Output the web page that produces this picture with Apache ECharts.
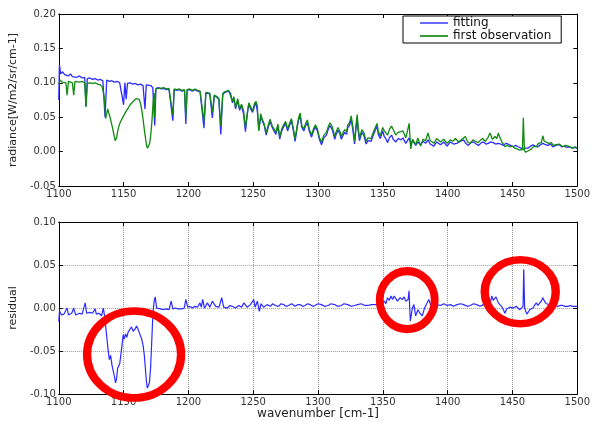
<!DOCTYPE html>
<html>
<head>
<meta charset="utf-8">
<script src="https://cdn.jsdelivr.net/npm/echarts@6/dist/echarts.min.js"></script>
<style>
  html, body { margin: 0; padding: 0; background: #fff; }
  #chart { width: 593px; height: 421px; }
</style>
</head>
<body>
<div id="chart"></div>
<script>
// wavenumber [cm-1], radiance of the fitted spectrum
const fitting = [
  [1100,0.075],[1100.5,0.126],[1101.5,0.113],[1103,0.116],[1104.5,0.112],[1106,0.114],[1107.5,0.110],[1109,0.113],
  [1110.5,0.109],[1112,0.111],[1114,0.108],[1116,0.110],[1118,0.107],[1120,0.108],[1121,0.066],[1122,0.106],
  [1124,0.107],[1126,0.105],[1128,0.106],[1130,0.104],[1132,0.105],[1134,0.103],[1135.7,0.050],[1137,0.104],
  [1139,0.102],[1141,0.103],[1143,0.101],[1145,0.102],[1147,0.100],[1148.5,0.101],[1150,0.068],[1151,0.100],
  [1152,0.076],[1153,0.099],[1155,0.100],[1157,0.098],[1159,0.099],[1161,0.097],[1163,0.098],[1165,0.096],
  [1166.5,0.062],[1167.5,0.097],[1169,0.095],[1171,0.096],[1172.5,0.093],[1174,0.038],[1175,0.092],[1177,0.093],
  [1179,0.091],[1181,0.092],[1183,0.090],[1185,0.091],[1186.5,0.089],[1188,0.045],[1189,0.090],[1191,0.089],
  [1193,0.090],[1195,0.088],[1197,0.089],[1198,0.040],[1199,0.089],[1201,0.090],[1203,0.088],[1205,0.090],
  [1207,0.088],[1209,0.087],[1210.5,0.085],[1212,0.034],[1213.5,0.085],[1215,0.087],[1216.5,0.084],[1218.5,0.049],
  [1220,0.081],[1222,0.079],[1223.5,0.076],[1225,0.025],[1226.5,0.083],[1228,0.086],[1229.5,0.084],[1231,0.088],
  [1232.5,0.085],[1234,0.071],[1235,0.078],[1236.4,0.062],[1238,0.074],[1239.5,0.060],[1241,0.067],[1242.5,0.055],
  [1244,0.029],[1245.5,0.055],[1246.6,0.069],[1248,0.062],[1249.5,0.057],[1251,0.066],[1252.2,0.071],[1253.2,0.058],
  [1254.3,0.032],[1255.8,0.050],[1257,0.045],[1258.5,0.038],[1260,0.024],[1261.5,0.035],[1263,0.044],[1264.5,0.036],
  [1266,0.030],[1267.5,0.025],[1269,0.037],[1270.5,0.018],[1272,0.030],[1273.5,0.036],[1275,0.041],[1276.5,0.030],
  [1278,0.038],[1279.5,0.045],[1281,0.030],[1282.3,0.015],[1284,0.036],[1285,0.046],[1286.2,0.052],[1287.5,0.035],
  [1289,0.030],[1290.5,0.038],[1291.8,0.042],[1293.2,0.030],[1295,0.021],[1296.5,0.030],[1298,0.036],[1299.5,0.030],
  [1301,0.018],[1302.7,0.010],[1304.5,0.020],[1306.5,0.024],[1308,0.033],[1309.2,0.038],[1311,0.032],[1312.9,0.018],
  [1314,0.025],[1315.4,0.031],[1316.8,0.026],[1318,0.018],[1319.4,0.024],[1320.6,0.028],[1322,0.025],[1323,0.035],
  [1324.3,0.038],[1325.6,0.047],[1326.9,0.031],[1328.2,0.011],[1329.2,0.032],[1330.2,0.049],[1331,0.030],[1332,0.016],
  [1333.8,0.028],[1335.3,0.024],[1337.1,0.011],[1338.5,0.016],[1339.7,0.014],[1341,0.015],[1342.2,0.022],[1343.5,0.028],
  [1345.5,0.037],[1346.5,0.025],[1348,0.019],[1349.9,0.030],[1351.1,0.022],[1352.5,0.018],[1353.7,0.013],[1355,0.020],
  [1356.7,0.024],[1358,0.018],[1360,0.014],[1361.8,0.019],[1363.9,0.017],[1365.5,0.020],[1367.7,0.012],[1369,0.016],
  [1370.3,0.020],[1371.5,0.011],[1373,0.016],[1375.4,0.009],[1377,0.014],[1379.2,0.010],[1381,0.015],[1383,0.012],
  [1384.8,0.017],[1386.5,0.011],[1389.4,0.008],[1391.5,0.014],[1394.5,0.010],[1397,0.014],[1399.6,0.008],[1402,0.014],
  [1404.5,0.011],[1407,0.012],[1410,0.015],[1412.3,0.017],[1414,0.012],[1416,0.009],[1418,0.013],[1420,0.014],
  [1422,0.011],[1423.8,0.009],[1426,0.013],[1427.6,0.014],[1429.5,0.011],[1431.4,0.012],[1433,0.014],[1435.2,0.013],
  [1437,0.011],[1439,0.012],[1441,0.011],[1442.9,0.009],[1445,0.012],[1446.7,0.011],[1448.5,0.009],[1450.5,0.007],
  [1452.5,0.009],[1454.4,0.007],[1456.5,0.005],[1458.2,0.003],[1460,0.005],[1462,0.005],[1464,0.008],[1465.8,0.010],
  [1467.5,0.008],[1469.7,0.007],[1471.5,0.010],[1473.5,0.012],[1475.5,0.010],[1477.3,0.009],[1479.5,0.011],[1481.1,0.007],
  [1483.5,0.009],[1486.2,0.010],[1488,0.007],[1490,0.008],[1492,0.006],[1493.9,0.007],[1496,0.005],[1497.7,0.006],
  [1500,0.005]
];

// wavenumber [cm-1], radiance of the first observation
const firstObservation = [
  [1100,0.098],[1101,0.104],[1102.5,0.101],[1104,0.103],[1105.5,0.100],[1106.4,0.082],[1107.5,0.102],[1109,0.103],
  [1110.5,0.100],[1111.5,0.082],[1112.5,0.102],[1114,0.103],[1116,0.101],[1118,0.102],[1120,0.100],[1121,0.065],
  [1122,0.099],[1124,0.100],[1126,0.099],[1128,0.100],[1130,0.098],[1132,0.097],[1133.5,0.094],[1135,0.080],
  [1136.2,0.048],[1137.7,0.062],[1139.5,0.050],[1141.3,0.036],[1142.5,0.025],[1143.5,0.016],[1144.6,0.020],[1145.5,0.030],
  [1146.4,0.037],[1147.5,0.043],[1148.4,0.045],[1150,0.052],[1151,0.050],[1152.3,0.060],[1153.5,0.063],[1155,0.068],
  [1156.5,0.071],[1158,0.074],[1159.5,0.077],[1161,0.078],[1162,0.076],[1163.2,0.069],[1164.2,0.058],[1165,0.048],
  [1166,0.032],[1166.8,0.021],[1167.6,0.010],[1168.3,0.005],[1169.2,0.008],[1170.1,0.012],[1171,0.025],[1171.9,0.045],
  [1172.7,0.070],[1173.4,0.085],[1174,0.050],[1174.6,0.089],[1176,0.092],[1178,0.092],[1181,0.093],[1183,0.091],
  [1185,0.092],[1186.5,0.090],[1188,0.053],[1189,0.091],[1191,0.090],[1193,0.091],[1195,0.089],[1197,0.090],
  [1198,0.050],[1199,0.090],[1201,0.091],[1203,0.089],[1205,0.091],[1207,0.089],[1209,0.088],[1210.5,0.086],
  [1212,0.044],[1213.5,0.086],[1215,0.088],[1216.5,0.085],[1218.5,0.057],[1220,0.082],[1222,0.080],[1223.5,0.077],
  [1225,0.037],[1226.5,0.084],[1228,0.087],[1229.5,0.085],[1231,0.089],[1232.5,0.087],[1234,0.073],[1235,0.080],
  [1236.4,0.064],[1238,0.077],[1239.5,0.062],[1241,0.069],[1242.5,0.060],[1244,0.035],[1245.5,0.057],[1246.6,0.071],
  [1248,0.065],[1249.5,0.059],[1251,0.070],[1252.2,0.073],[1253.2,0.066],[1254.3,0.030],[1255.8,0.055],[1257,0.047],
  [1258.5,0.040],[1260,0.027],[1261.5,0.038],[1263,0.047],[1264.5,0.038],[1266,0.033],[1267.5,0.028],[1269,0.040],
  [1270.5,0.021],[1272,0.033],[1273.5,0.039],[1275,0.044],[1276.5,0.033],[1278,0.041],[1279.5,0.048],[1281,0.033],
  [1282.3,0.018],[1284,0.039],[1285,0.049],[1286.2,0.056],[1287.5,0.038],[1289,0.033],[1290.5,0.041],[1291.8,0.046],
  [1293.2,0.033],[1295,0.024],[1296.5,0.033],[1298,0.039],[1299.5,0.033],[1301,0.021],[1302.7,0.014],[1304.5,0.024],
  [1306.5,0.028],[1308,0.037],[1309.2,0.042],[1311,0.036],[1312.9,0.022],[1314,0.029],[1315.4,0.035],[1316.8,0.030],
  [1318,0.022],[1319.4,0.028],[1320.6,0.032],[1322,0.029],[1323,0.039],[1324.3,0.042],[1325.6,0.052],[1326.9,0.036],
  [1328.2,0.015],[1329.2,0.036],[1330.2,0.054],[1331,0.034],[1332,0.020],[1333.8,0.032],[1335.3,0.028],[1337.1,0.015],
  [1338.5,0.020],[1339.7,0.018],[1341,0.019],[1342.2,0.026],[1343.5,0.032],[1345.5,0.041],[1346.5,0.029],[1348,0.023],
  [1349.9,0.035],[1351.1,0.030],[1352.5,0.028],[1353.7,0.024],[1355,0.032],[1356.7,0.037],[1358,0.032],[1360,0.024],
  [1361.8,0.028],[1363.9,0.029],[1365.5,0.030],[1367.7,0.020],[1369,0.030],[1370.3,0.041],[1371.5,0.004],[1373,0.018],
  [1375.4,0.010],[1377,0.020],[1379.2,0.008],[1381,0.018],[1383,0.016],[1384.8,0.027],[1386.5,0.016],[1389.4,0.012],
  [1391.5,0.019],[1394.5,0.014],[1397,0.018],[1399.6,0.012],[1402,0.017],[1404,0.015],[1406,0.019],[1408.5,0.014],
  [1411,0.018],[1413.6,0.022],[1415.5,0.014],[1417.4,0.012],[1419.5,0.017],[1421.5,0.015],[1423.5,0.013],[1425,0.016],
  [1427,0.019],[1429,0.015],[1431,0.020],[1432.7,0.027],[1434.5,0.018],[1436.5,0.022],[1438,0.019],[1439,0.027],
  [1440.3,0.021],[1441.6,0.015],[1443,0.011],[1444.2,0.007],[1446,0.009],[1448,0.007],[1450,0.008],[1451.8,0.005],
  [1453.5,0.004],[1455.6,0.002],[1457.7,0.003],[1458.4,0.049],[1459.2,0.002],[1460.2,-0.001],[1461.2,-0.002],[1463,0.002],
  [1464.6,0.004],[1466.5,0.008],[1468.4,0.007],[1470,0.012],[1472.2,0.013],[1473.5,0.023],[1474.5,0.015],[1476,0.014],
  [1478,0.012],[1480,0.013],[1481.5,0.009],[1483.7,0.010],[1486,0.011],[1488.8,0.007],[1491,0.009],[1493,0.008],
  [1494.5,0.010],[1496.4,0.005],[1498.5,0.007],[1500,0.005]
];

// wavenumber [cm-1], residual
const residual = [
  [1100,-0.016],[1100.6,-0.003],[1102,-0.008],[1104,-0.007],[1106.4,0.000],[1107.5,-0.008],[1110,-0.006],[1111.5,0.000],
  [1113,-0.008],[1116,-0.006],[1118,-0.007],[1120.4,0.006],[1121.5,-0.006],[1124,-0.005],[1126,-0.006],[1128,-0.001],
  [1129,-0.007],[1131,-0.006],[1133,-0.009],[1134.4,0.000],[1135.5,-0.011],[1137,-0.012],[1138,-0.048],[1139,-0.060],
  [1140,-0.055],[1141,-0.066],[1142,-0.073],[1143,-0.080],[1143.8,-0.087],[1144.6,-0.082],[1145.4,-0.070],[1146.2,-0.072],
  [1147,-0.065],[1148.4,-0.048],[1149.7,-0.031],[1150.5,-0.036],[1151.5,-0.030],[1152.5,-0.034],[1153.5,-0.028],[1155,-0.026],
  [1156,-0.022],[1157.5,-0.027],[1159,-0.024],[1160,-0.021],[1161,-0.024],[1162.5,-0.030],[1164,-0.036],[1165,-0.043],
  [1166,-0.055],[1166.8,-0.070],[1167.6,-0.085],[1168.3,-0.093],[1169.2,-0.090],[1170,-0.086],[1170.8,-0.070],[1171.4,-0.050],
  [1172.1,-0.025],[1172.7,-0.005],[1173.6,0.008],[1174.4,0.013],[1175.5,0.000],[1176.5,-0.002],[1178.5,-0.001],[1180.5,-0.002],
  [1183,-0.001],[1185,-0.002],[1186.7,0.008],[1188,-0.001],[1190,0.000],[1192,-0.001],[1195,-0.001],[1196.8,0.000],
  [1198,0.010],[1199.4,0.001],[1201,0.002],[1203.2,0.000],[1205,0.002],[1207,0.001],[1208.9,0.006],[1210,0.001],
  [1211,0.010],[1212.4,0.000],[1214.7,0.006],[1216.5,0.001],[1218.5,0.008],[1221,0.002],[1223.6,0.001],[1225.7,0.012],
  [1227.2,0.001],[1230,0.000],[1232,0.003],[1233.8,0.002],[1236.4,0.000],[1239,0.003],[1241,0.001],[1242.8,0.006],
  [1245.3,0.001],[1247.9,0.004],[1250.4,0.010],[1251.5,0.001],[1252.2,0.002],[1253.2,0.008],[1254.7,-0.004],[1256,0.005],
  [1258,0.001],[1260.6,0.004],[1263.2,0.002],[1265,0.005],[1267,0.003],[1269.5,0.002],[1271.5,0.005],[1273.4,0.004],
  [1275.5,0.002],[1277.2,0.003],[1279.7,0.005],[1282.3,0.002],[1284.5,0.004],[1286.1,0.004],[1288,0.002],[1289.9,0.003],
  [1292,0.005],[1293.8,0.004],[1296,0.002],[1297.6,0.003],[1300,0.005],[1302.7,0.004],[1305,0.002],[1307.8,0.003],
  [1310,0.005],[1312.9,0.004],[1315,0.002],[1318,0.003],[1320,0.005],[1323.1,0.004],[1325.5,0.002],[1328.2,0.003],
  [1330.5,0.004],[1333.3,0.005],[1336,0.003],[1338.4,0.003],[1341,0.004],[1343.5,0.004],[1346,0.004],[1348.5,0.006],
  [1351.1,0.008],[1352.3,0.005],[1353.6,0.012],[1355,0.009],[1356.2,0.014],[1357.5,0.010],[1358.7,0.014],[1360,0.011],
  [1361.3,0.008],[1363.3,0.012],[1365.1,0.010],[1366.4,0.013],[1367.7,0.008],[1369.5,0.010],[1370.2,0.020],[1371.2,-0.015],
  [1372.8,0.000],[1374,0.004],[1375.3,-0.009],[1377.1,-0.002],[1378.6,-0.006],[1380.4,-0.009],[1382.2,0.000],[1383.7,-0.002],
  [1385.5,0.010],[1386.8,0.004],[1389,0.003],[1391.9,0.004],[1394.5,0.003],[1397,0.005],[1399.5,0.003],[1402.1,0.004],
  [1404.5,0.002],[1407.2,0.004],[1410,0.005],[1412.3,0.004],[1415,0.002],[1417.4,0.003],[1420,0.005],[1422.5,0.004],
  [1425,0.002],[1427.6,0.004],[1430,0.005],[1432.7,0.004],[1434,0.014],[1435.2,0.009],[1436.3,0.011],[1437.3,0.013],
  [1439.1,0.006],[1441.6,0.002],[1443,-0.002],[1444.2,-0.006],[1445.5,-0.001],[1446.7,-0.002],[1448,0.001],[1449.3,0.002],
  [1450.5,0.000],[1451.8,-0.001],[1453,0.002],[1454.3,0.000],[1455.6,-0.002],[1456.9,-0.001],[1458.2,0.002],[1458.7,0.045],
  [1459.4,0.000],[1460.3,-0.004],[1461.2,-0.007],[1462.2,-0.005],[1463.3,-0.002],[1464.5,-0.001],[1465.8,0.000],[1467,0.003],
  [1468.4,0.006],[1469.6,0.003],[1470.9,0.004],[1472.2,0.008],[1473.5,0.012],[1474.7,0.008],[1476,0.005],[1477.3,0.004],
  [1479,0.004],[1481.1,0.004],[1483,0.003],[1485,0.002],[1487,0.003],[1488.8,0.003],[1490.5,0.002],[1492.6,0.002],
  [1494.5,0.003],[1496.4,0.002],[1498,0.002],[1500,0.002]
];

// centres of the red marker rings on the residual panel
const ringCentres = [[1158.1, -0.054], [1368.8, 0.0093], [1456.0, 0.019]];

const FONT = 'DejaVu Sans';
const ringSizes = [[94, 87], [55, 58], [71, 64]];
const GRID_LINE = { show: true, lineStyle: { color: '#9a9a9a', type: 'dotted', width: 1 } };

const fmtY = v => (Math.abs(v) < 1e-9 ? '0.00' : v.toFixed(2));
const fmtX = v => String(Math.round(v));

function xAx(grid, pos, labels, name) {
    return {
        type: 'value', gridIndex: grid, position: pos, min: 1100, max: 1500, interval: 50,
        name: name || '', nameLocation: 'middle', nameGap: 13,
        nameTextStyle: { fontFamily: FONT, fontSize: 12, color: '#222' },
        axisLine: { show: true, onZero: false, lineStyle: { color: '#000', width: 1 } },
        axisTick: { show: true, inside: true, length: 4, lineStyle: { color: '#000' } },
        axisLabel: { show: labels, margin: 3, fontFamily: FONT, fontSize: 10, color: '#333', formatter: fmtX },
        splitLine: { show: false }
    };
}

function yAx(grid, pos, labels, min, max, name) {
    return {
        type: 'value', gridIndex: grid, position: pos, min: min, max: max, interval: 0.05,
        name: name || '', nameLocation: 'middle', nameGap: 35,
        nameTextStyle: { fontFamily: FONT, fontSize: 11, color: '#222' },
        axisLine: { show: true, onZero: false, lineStyle: { color: '#000', width: 1 } },
        axisTick: { show: true, inside: true, length: 4, lineStyle: { color: '#000' } },
        axisLabel: { show: labels, margin: 3, fontFamily: FONT, fontSize: 10, color: '#333', formatter: fmtY },
        splitLine: { show: false }
    };
}

const chart = echarts.init(document.getElementById('chart'), null, { renderer: 'canvas' });

// residual panel has a dotted grid, the radiance panel has none
const bottomX = xAx(1, 'bottom', true, 'wavenumber [cm-1]');
bottomX.splitLine = GRID_LINE;
const bottomY = yAx(1, 'left', true, -0.10, 0.10, 'residual');
bottomY.splitLine = GRID_LINE;

const option = {
    animation: false,
    backgroundColor: '#fff',
    grid: [
        { left: 55, top: 14, width: 523, height: 172 },
        { left: 55, top: 222, width: 523, height: 173 }
    ],
    legend: {
        data: ['fitting', 'first observation'],
        orient: 'vertical',
        left: 403, top: 16,
        padding: [1, 10, 1, 17],
        itemGap: 1,
        itemWidth: 28, itemHeight: 2,
        icon: 'rect',
        borderColor: '#000', borderWidth: 1,
        backgroundColor: '#fff',
        textStyle: { fontFamily: FONT, fontSize: 12, color: '#111', lineHeight: 12 }
    },
    xAxis: [
        xAx(0, 'bottom', true),
        xAx(0, 'top', false),
        bottomX,
        xAx(1, 'top', false)
    ],
    yAxis: [
        yAx(0, 'left', true, -0.05, 0.20, 'radiance[W/m2/sr/cm-1]'),
        yAx(0, 'right', false, -0.05, 0.20),
        bottomY,
        yAx(1, 'right', false, -0.10, 0.10)
    ],
    series: [
        {
            name: 'fitting', type: 'line', xAxisIndex: 0, yAxisIndex: 0,
            data: fitting, symbol: 'none', z: 3,
            lineStyle: { color: '#2b2bff', width: 1.3 },
            itemStyle: { color: '#6b6bff' }
        },
        {
            name: 'first observation', type: 'line', xAxisIndex: 0, yAxisIndex: 0,
            data: firstObservation, symbol: 'none', z: 4,
            lineStyle: { color: '#118a11', width: 1.3 },
            itemStyle: { color: '#3a9a3a' }
        },
        {
            name: 'residual', type: 'line', xAxisIndex: 2, yAxisIndex: 2,
            data: residual, symbol: 'none', z: 3,
            lineStyle: { color: '#2b2bff', width: 1.2 }
        },
        {
            name: 'rings', type: 'scatter', xAxisIndex: 2, yAxisIndex: 2,
            clip: false, z: 10, silent: true,
            data: ringCentres.map((c, i) => ({ value: c, symbolSize: ringSizes[i] })),
            symbol: 'circle',
            itemStyle: { color: 'rgba(0,0,0,0)', borderColor: '#ff0000', borderWidth: 8, opacity: 1 }
        }
    ]
};

chart.setOption(option);
window.addEventListener('resize', () => chart.resize());
</script>
</body>
</html>
